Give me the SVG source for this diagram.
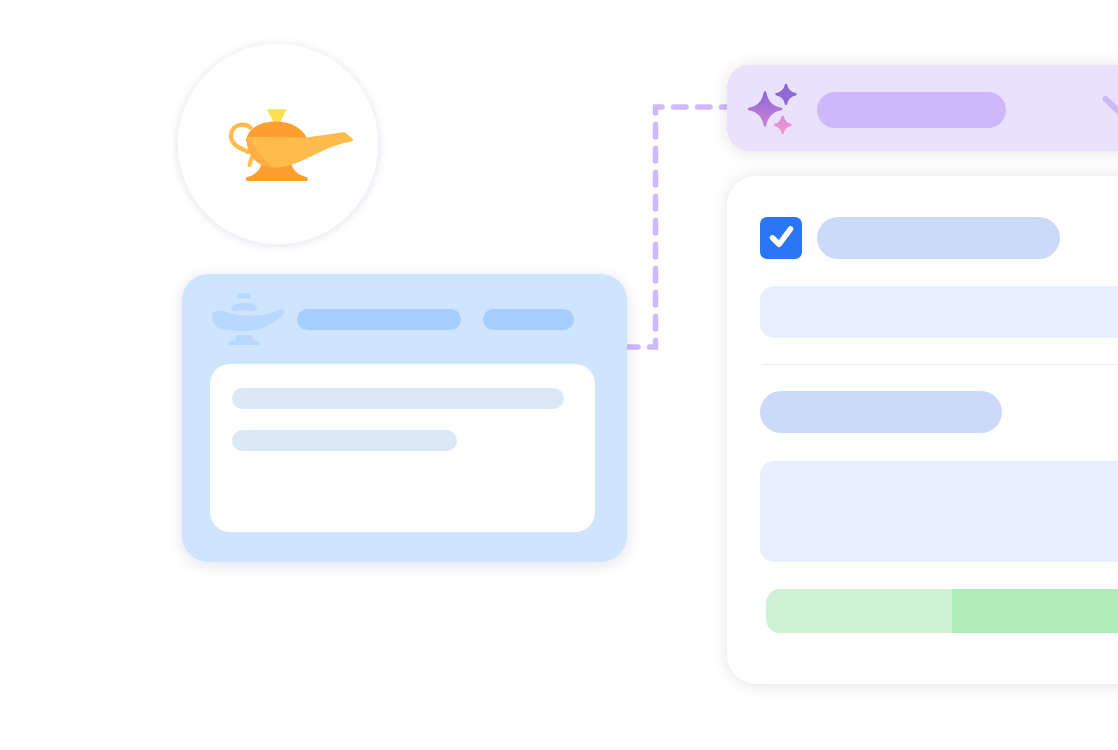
<svg xmlns="http://www.w3.org/2000/svg" width="1118" height="750" viewBox="0 0 1118 750">
<style>
.blue{fill:#cbdaf8}.pale{fill:#e7eefe}.lampb{fill:#b8d8ff}.bar{fill:#a5cdff}.inbar{fill:#dce8f6}
</style>
<defs>
<filter id="sh" x="-20%" y="-20%" width="140%" height="140%"><feDropShadow dx="0" dy="1" stdDeviation="5" flood-color="#2a3a70" flood-opacity="0.13"/></filter>
<filter id="sh2" x="-20%" y="-20%" width="140%" height="140%"><feDropShadow dx="0" dy="1" stdDeviation="8" flood-color="#000" flood-opacity="0.11"/></filter>
<filter id="sh3" x="-20%" y="-20%" width="140%" height="140%"><feDropShadow dx="0" dy="3" stdDeviation="7" flood-color="#1a3a70" flood-opacity="0.12"/></filter>
<linearGradient id="sp1" x1="0" y1="0" x2="0" y2="1"><stop offset="0" stop-color="#8e68d8"/><stop offset="1" stop-color="#c884d4"/></linearGradient>
<linearGradient id="sp2" x1="0" y1="0" x2="0" y2="1"><stop offset="0" stop-color="#e088d4"/><stop offset="1" stop-color="#f09ad2"/></linearGradient>
</defs>
<rect width="1118" height="750" fill="#fff"/>
<g id="connectors">
<path d="M625.500 347H655.500V107H730" fill="none" stroke="#d0b9f8" stroke-width="5.500" stroke-linecap="round" stroke-linejoin="miter" stroke-dasharray="12.500 11.500"/>
</g>
<g id="lamp-badge">
<circle cx="278" cy="144" r="100" fill="#fff" filter="url(#sh)"/>
<path d="M268 110H285.500L279.500 122H274.500Z" fill="#ffdf50" stroke="#ffdf50" stroke-width="1.500" stroke-linejoin="round"/>
<path d="M250.500 127.500C245 123 235 124 232 131C229 139 234 145 240 148C243 149.500 246 150.500 248 152" fill="none" stroke="#ffbc4a" stroke-width="4.300" stroke-linecap="round"/>
<path d="M251.500 158L249.500 165" fill="none" stroke="#ffbc4a" stroke-width="4" stroke-linecap="round"/>
<path d="M261.500 164H291.500C293 170 298 175 306 177C308.500 177.500 308.500 181 306 181H247.500C245 181 245 177.500 247.500 177C255 175 260 170 261.500 164Z" fill="#ff9f2f"/>
<path d="M246 140C248 129 259 121.500 276 121.500C291 121.500 302 128 307 138L300 150H250Z" fill="#ff9f2f"/>
<path d="M247 137L306.500 137.500L343 132.300C345 132 346 133 348 135L352.500 138.500C353.500 140 353 141 351 141.500C338 144 326 149 316 154C303 161 288 167.500 273 167.500C264 167 255 160 250.500 153C247.500 148 246.500 142 247 137Z" fill="#ffbc4a"/>
<path d="M247 137C254 148 263 158 273 167.500C262 167.500 254 161 250.500 155C247.500 149 246 143 247 137Z" fill="#ffac45"/>
</g>
<g id="blue-card">
<rect x="182" y="274" width="445" height="288" rx="26" fill="#cfe4ff" filter="url(#sh3)"/>
<g class="lampb">
<path d="M237 297C239 291.500 249 291.500 251 297C251.500 298.500 250 298.500 249 298.500H239C238 298.500 236.500 298.500 237 297Z"/>
<path d="M231 309C232 303 240 302.700 245 302.700C250 302.700 256 303 257 309C257 310 256 310.500 255.500 310.500H232.500C232 310.500 231 310 231 309Z"/>
<path d="M212 315C212.500 310.500 219 309 226 312C236 316 252 316 261 315C269 314 275 311 280 309.500C284 308.700 285.500 312 283 314.500C276 321 268 327 257 329.500C247 332 234 331 224 329.500C214 328 212 322 212 315Z"/>
<path d="M236.700 335H251.700L253 340C255 341 258 341.500 259.500 343C260 344.500 259 345 257 345H231C229 345 228 344.500 228.500 343C230 341.500 233.500 341 235.500 340Z"/>
</g>
<rect class="bar" x="297" y="309" width="164" height="21" rx="10.500"/>
<rect class="bar" x="483" y="309" width="91" height="21" rx="10.500"/>
<rect x="210" y="364" width="385" height="168" rx="20" fill="#fff"/>
<rect class="inbar" x="232" y="388" width="332" height="21" rx="10.500"/>
<rect class="inbar" x="232" y="430" width="225" height="21" rx="10.500"/>
</g>
<g id="purple-header">
<rect x="727" y="65" width="440" height="86" rx="22" fill="#eae1fc" filter="url(#sh2)"/>
<path d="M765 92.500Q767.500 106.500 781 109Q767.500 111.500 765 125.500Q762.500 111.500 749 109Q762.500 106.500 765 92.500Z" fill="url(#sp1)" stroke="url(#sp1)" stroke-width="2.500" stroke-linejoin="round"/>
<path d="M786 85Q787.500 92.800 795.500 94.300Q787.500 95.800 786 103.700Q784.500 95.800 776.500 94.300Q784.500 92.800 786 85Z" fill="#8d69d6" stroke="#8d69d6" stroke-width="2.500" stroke-linejoin="round"/>
<path d="M782.700 117Q784 123.700 790.500 125Q784 126.300 782.700 133Q781.400 126.300 775 125Q781.400 123.700 782.700 117Z" fill="url(#sp2)" stroke="url(#sp2)" stroke-width="2.500" stroke-linejoin="round"/>
<rect x="817" y="92" width="189" height="36" rx="18" fill="#cfb8fa"/>
<path d="M1105.500 99L1130 122" fill="none" stroke="#cfb8fa" stroke-width="6" stroke-linecap="round"/>
</g>
<g id="white-panel">
<rect x="727" y="176" width="440" height="508" rx="30" fill="#fff" filter="url(#sh2)"/>
<rect x="760" y="217" width="42" height="42" rx="7" fill="#2b76f6"/>
<path d="M772.500 237.800L779 244.300L790.500 229" fill="none" stroke="#fff" stroke-width="5.500" stroke-linecap="round" stroke-linejoin="round"/>
<rect class="blue" x="817" y="217" width="243" height="42" rx="21"/>
<rect class="pale" x="760" y="286" width="400" height="52" rx="14"/>
<rect x="762" y="364" width="380" height="1" fill="#ececec"/>
<rect class="blue" x="760" y="391" width="242" height="42" rx="21"/>
<rect class="pale" x="760" y="461" width="400" height="101" rx="14"/>
<rect x="766" y="589" width="400" height="44" rx="14" fill="#cff2d6"/>
<rect x="952" y="589" width="214" height="44" fill="#b0ecba"/>
</g>
</svg>
